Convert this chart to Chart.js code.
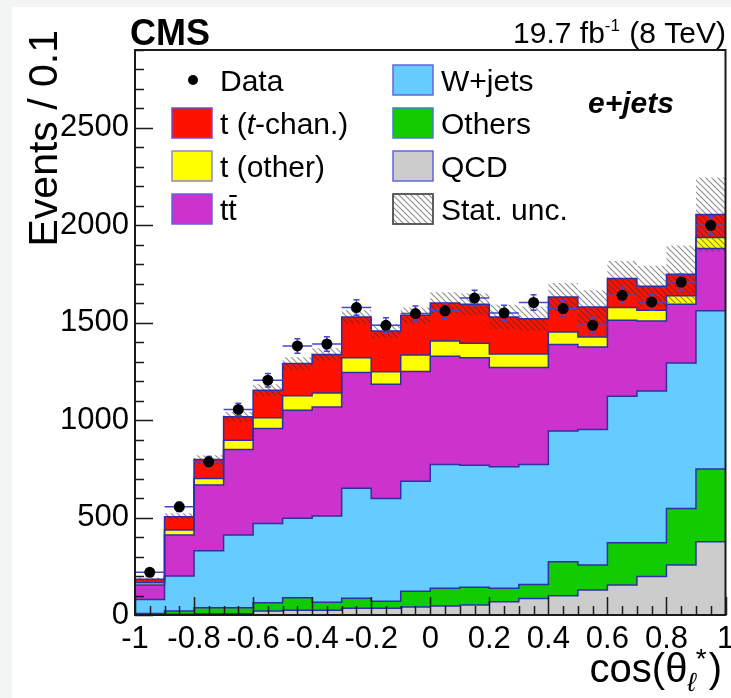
<!DOCTYPE html>
<html>
<head>
<meta charset="utf-8">
<title>cos theta* e+jets</title>
<script src="https://cdn.jsdelivr.net/npm/chart.js@4.4.0/dist/chart.umd.min.js"></script>
<style>
  html, body { margin: 0; padding: 0; background: #f3f5f5; overflow: hidden; }
  canvas { display: block; }
</style>
</head>
<body>
<canvas id="costheta" width="731" height="698"></canvas>
<script>
// bins of cos(theta_l*), width 0.1
var binLow = [-1.0, -0.9, -0.8, -0.7, -0.6, -0.5, -0.4, -0.3, -0.2, -0.1,
              0.0, 0.1, 0.2, 0.3, 0.4, 0.5, 0.6, 0.7, 0.8, 0.9];
var binHigh = 1.0;
var xTicks = [-1, -0.8, -0.6, -0.4, -0.2, 0, 0.2, 0.4, 0.6, 0.8, 1];
var yTicks = [0, 500, 1000, 1500, 2000, 2500];

// expected events per bin, bottom of the stack first
var qcd    = [3, 4, 6, 7, 20, 24, 24, 35, 35, 41, 46, 51, 68, 85, 99, 128, 154, 197, 256, 376];
var others = [5, 16, 31, 30, 43, 64, 42, 51, 36, 81, 91, 91, 69, 72, 174, 128, 217, 174, 291, 373];
var wjets  = [72, 180, 293, 373, 407, 408, 442, 564, 527, 564, 636, 626, 624, 616, 671, 696, 752, 779, 747, 812];
var ttbar  = [74, 210, 337, 440, 487, 555, 560, 595, 587, 564, 555, 553, 509, 497, 444, 424, 390, 359, 301, 320];
var tOther = [12, 26, 34, 47, 55, 74, 72, 76, 63, 85, 79, 74, 70, 70, 65, 51, 65, 55, 43, 56];
var tChan  = [17, 68, 97, 120, 142, 166, 197, 209, 210, 203, 195, 200, 190, 181, 179, 154, 149, 123, 111, 119];
var statUnc = [10, 18, 22, 25, 30, 32, 32, 35, 35, 40, 55, 55, 62, 62, 72, 86, 90, 105, 148, 190];

var dataCounts = [219, 555, 786, 1055, 1205, 1381, 1391, 1578, 1487, 1547,
                  1561, 1627, 1550, 1604, 1573, 1487, 1641, 1607, 1709, 2000];

var font = "'Liberation Sans', Arial, Helvetica, sans-serif";
var outline = '#2e2ea8';
var colors = {
  tChan: '#ff1100',
  tOther: '#ffff00',
  ttbar: '#cc33cc',
  wjets: '#66ccff',
  others: '#11cc00',
  qcd: '#cccccc'
};

function binUpper(i) {
  return i + 1 < binLow.length ? binLow[i + 1] : binHigh;
}

// running sum of the stack
function addUp(a, b) {
  return a.map(function (v, i) { return v + b[i]; });
}
var topQcd = qcd.slice();
var topOthers = addUp(topQcd, others);
var topW = addUp(topOthers, wjets);
var topTT = addUp(topW, ttbar);
var topTOther = addUp(topTT, tOther);
var topAll = addUp(topTOther, tChan);

// points at the left edges, plus the right edge of the last bin
function steps(values) {
  var pts = binLow.map(function (x, i) { return { x: x, y: values[i] }; });
  pts.push({ x: binHigh, y: values[values.length - 1] });
  return pts;
}

function makeHatch() {
  var c = document.createElement('canvas');
  c.width = 6;
  c.height = 6;
  var g = c.getContext('2d');
  g.strokeStyle = 'rgba(50,50,50,0.55)';
  g.lineWidth = 1.1;
  g.beginPath();
  g.moveTo(-1, -1); g.lineTo(7, 7);
  g.moveTo(-1, 5); g.lineTo(1, 7);
  g.moveTo(5, -1); g.lineTo(7, 1);
  g.stroke();
  return g.createPattern(c, 'repeat');
}
var hatch = makeHatch();

function stackLayer(label, values, color, fill) {
  return {
    label: label,
    data: steps(values),
    stepped: true,
    fill: fill,
    backgroundColor: color,
    borderColor: outline,
    borderWidth: 1.5,
    pointRadius: 0
  };
}

var backdrop = {
  id: 'backdrop',
  beforeDraw: function (chart) {
    var ctx = chart.ctx;
    ctx.save();
    ctx.fillStyle = '#f3f5f5';
    ctx.fillRect(0, 0, chart.width, chart.height);
    ctx.fillStyle = '#ffffff';
    ctx.fillRect(12, 7, chart.width - 12, chart.height - 7);
    ctx.restore();
  }
};

var errorBars = {
  id: 'errorBars',
  beforeDatasetDraw: function (chart, args) {
    if (args.index !== 0) return;
    var ctx = chart.ctx, xs = chart.scales.x, ys = chart.scales.y;
    ctx.save();
    ctx.strokeStyle = '#4646d2';
    ctx.lineWidth = 1.5;
    dataCounts.forEach(function (n, i) {
      var lo = binLow[i], hi = binUpper(i);
      var xc = xs.getPixelForValue((lo + hi) / 2);
      var y = ys.getPixelForValue(n);
      var yUp = ys.getPixelForValue(n + Math.sqrt(n));
      var yDn = ys.getPixelForValue(n - Math.sqrt(n));
      ctx.beginPath();
      ctx.moveTo(xs.getPixelForValue(lo), y);
      ctx.lineTo(xs.getPixelForValue(hi), y);
      ctx.moveTo(xc, yUp); ctx.lineTo(xc, yDn);
      ctx.moveTo(xc - 3, yUp); ctx.lineTo(xc + 3, yUp);
      ctx.moveTo(xc - 3, yDn); ctx.lineTo(xc + 3, yDn);
      ctx.stroke();
    });
    ctx.restore();
  }
};

// inward ticks and the frame
var frame = {
  id: 'frame',
  afterDatasetsDraw: function (chart) {
    var ctx = chart.ctx, a = chart.chartArea, xs = chart.scales.x, ys = chart.scales.y;
    ctx.save();
    ctx.strokeStyle = '#1a1a1a';
    ctx.lineWidth = 1.5;
    ctx.beginPath();
    for (var v = 0; v <= ys.max; v += 100) {
      var py = Math.round(ys.getPixelForValue(v)) + 0.5;
      ctx.moveTo(a.left, py);
      ctx.lineTo(a.left + (v % 500 === 0 ? 18 : 9), py);
    }
    for (var k = 0; k <= 40; k++) {
      var px = Math.round(xs.getPixelForValue(-1 + k * 0.05)) + 0.5;
      ctx.moveTo(px, a.bottom);
      ctx.lineTo(px, a.bottom - (k % 4 === 0 ? 18 : 9));
    }
    ctx.stroke();
    ctx.lineWidth = 2;
    ctx.strokeRect(a.left, a.top, a.right - a.left, a.bottom - a.top);
    ctx.restore();
  }
};

function drawPieces(ctx, x, y, pieces) {
  pieces.forEach(function (p) {
    ctx.font = p.f;
    ctx.fillText(p.t, x, y + (p.dy || 0));
    x += ctx.measureText(p.t).width + (p.dx || 0);
  });
  return x;
}

function piecesWidth(ctx, pieces) {
  var w = 0;
  pieces.forEach(function (p) {
    ctx.font = p.f;
    w += ctx.measureText(p.t).width + (p.dx || 0);
  });
  return w;
}

function legendBox(ctx, x, yc, fill, border) {
  ctx.fillStyle = fill;
  ctx.fillRect(x, yc - 15, 40, 30);
  ctx.strokeStyle = border;
  ctx.lineWidth = 1.5;
  ctx.strokeRect(x, yc - 15, 40, 30);
}

var labels = {
  id: 'labels',
  afterDraw: function (chart) {
    var ctx = chart.ctx;
    ctx.save();
    ctx.fillStyle = '#000';
    ctx.textBaseline = 'alphabetic';
    ctx.textAlign = 'left';

    ctx.font = 'bold 36px ' + font;
    ctx.fillText('CMS', 130, 45);

    var lumi = [
      { t: '19.7 fb', f: '30px ' + font },
      { t: '-1', f: '17px ' + font, dy: -12, dx: 1 },
      { t: ' (8 TeV)', f: '30px ' + font }
    ];
    drawPieces(ctx, 726 - piecesWidth(ctx, lumi), 43, lumi);

    ctx.font = 'italic bold 30px ' + font;
    ctx.fillText('e+jets', 588, 113);

    // legend
    var rows = [80, 123, 166, 209];
    var tf = '30px ' + font;
    ctx.beginPath();
    ctx.arc(193, rows[0], 5, 0, Math.PI * 2);
    ctx.fill();
    ctx.font = tf;
    ctx.fillText('Data', 220, rows[0] + 11);

    legendBox(ctx, 172, rows[1], colors.tChan, '#7a4ad0');
    legendBox(ctx, 172, rows[2], colors.tOther, '#8a8ac8');
    legendBox(ctx, 172, rows[3], colors.ttbar, '#6464dc');
    ctx.fillStyle = '#000';
    drawPieces(ctx, 220, rows[1] + 11, [
      { t: 't (', f: tf },
      { t: 't', f: 'italic 30px ' + font },
      { t: '-chan.)', f: tf }
    ]);
    ctx.font = tf;
    ctx.fillText('t (other)', 220, rows[2] + 11);
    ctx.fillText('tt', 220, rows[3] + 11);
    var tw = ctx.measureText('t').width;
    ctx.fillRect(220 + tw + 1, rows[3] - 14, tw - 1, 2);

    legendBox(ctx, 393, rows[0], colors.wjets, '#6464dc');
    legendBox(ctx, 393, rows[1], colors.others, '#4a7ad0');
    legendBox(ctx, 393, rows[2], colors.qcd, '#6464dc');
    legendBox(ctx, 393, rows[3], '#ffffff', '#555555');
    ctx.fillStyle = hatch;
    ctx.fillRect(393, rows[3] - 15, 40, 30);
    ctx.strokeStyle = '#555555';
    ctx.strokeRect(393, rows[3] - 15, 40, 30);
    ctx.fillStyle = '#000';
    ctx.font = tf;
    ctx.fillText('W+jets', 441, rows[0] + 11);
    ctx.fillText('Others', 441, rows[1] + 11);
    ctx.fillText('QCD', 441, rows[2] + 11);
    ctx.fillText('Stat. unc.', 441, rows[3] + 11);

    // axis titles
    var xt = [
      { t: 'cos(\u03B8', f: '40px ' + font },
      { t: '\u2113', f: 'italic 26px ' + font, dy: 9 },
      { t: '*', f: '28px ' + font, dy: -14, dx: 2 },
      { t: ')', f: '40px ' + font }
    ];
    drawPieces(ctx, 722 - piecesWidth(ctx, xt), 682, xt);

    ctx.translate(57, 30);
    ctx.rotate(-Math.PI / 2);
    ctx.textAlign = 'right';
    ctx.font = '41px ' + font;
    ctx.fillText('Events / 0.1', 0, 0);
    ctx.restore();
  }
};

var context = document.getElementById('costheta').getContext('2d');

var datasets = [
  {
    label: 'Data',
    data: dataCounts.map(function (n, i) {
      return { x: (binLow[i] + binUpper(i)) / 2, y: n };
    }),
    showLine: false,
    pointRadius: 5.5,
    pointBackgroundColor: '#000',
    pointBorderWidth: 0,
    borderColor: 'transparent'
  },
  {
    label: 'Stat. unc.',
    data: steps(topAll.map(function (v, i) { return v + statUnc[i]; })),
    stepped: true,
    fill: '+1',
    backgroundColor: hatch,
    borderColor: 'transparent',
    borderWidth: 0,
    pointRadius: 0
  },
  {
    label: 'unc-low',
    data: steps(topAll.map(function (v, i) { return v - statUnc[i]; })),
    stepped: true,
    fill: false,
    borderColor: 'transparent',
    borderWidth: 0,
    pointRadius: 0
  },
  stackLayer('t (t-chan.)', topAll, colors.tChan, '+1'),
  stackLayer('t (other)', topTOther, colors.tOther, '+1'),
  stackLayer('tt', topTT, colors.ttbar, '+1'),
  stackLayer('W+jets', topW, colors.wjets, '+1'),
  stackLayer('Others', topOthers, colors.others, '+1'),
  stackLayer('QCD', topQcd, colors.qcd, 'origin')
];

var myChart = new Chart(context, {
  type: 'line',
  data: { datasets: datasets },
  options: {
    responsive: false,
    animation: false,
    devicePixelRatio: 1,
    layout: { padding: { top: 50, right: 4, left: 0, bottom: 0 } },
    elements: { line: { tension: 0 } },
    plugins: {
      legend: { display: false },
      tooltip: { enabled: false },
      filler: { drawTime: 'beforeDatasetsDraw' }
    },
    scales: {
      x: {
        type: 'linear',
        min: -1,
        max: 1,
        grid: { display: false, drawTicks: false },
        border: { display: false },
        afterBuildTicks: function (scale) {
          scale.ticks = xTicks.map(function (v) { return { value: v }; });
        },
        afterFit: function (scale) {
          scale.height = 83;
          scale.paddingLeft = 0; scale.paddingRight = 0;
          scale.paddingTop = 0; scale.paddingBottom = 0;
        },
        ticks: {
          autoSkip: false,
          maxRotation: 0,
          padding: 6,
          color: '#000',
          font: { family: font, size: 31 },
          callback: function (v) { return String(Number(v.toFixed(1))); }
        }
      },
      y: {
        min: 0,
        max: 2900,
        grid: { display: false, drawTicks: false },
        border: { display: false },
        afterBuildTicks: function (scale) {
          scale.ticks = yTicks.map(function (v) { return { value: v }; });
        },
        afterFit: function (scale) {
          scale.width = 135;
          scale.paddingLeft = 0; scale.paddingRight = 0;
          scale.paddingTop = 0; scale.paddingBottom = 0;
        },
        ticks: {
          autoSkip: false,
          padding: 6,
          color: '#000',
          font: { family: font, size: 31 },
          callback: function (v) { return String(v); }
        }
      }
    }
  },
  plugins: [backdrop, errorBars, frame, labels]
});
</script>
</body>
</html>
